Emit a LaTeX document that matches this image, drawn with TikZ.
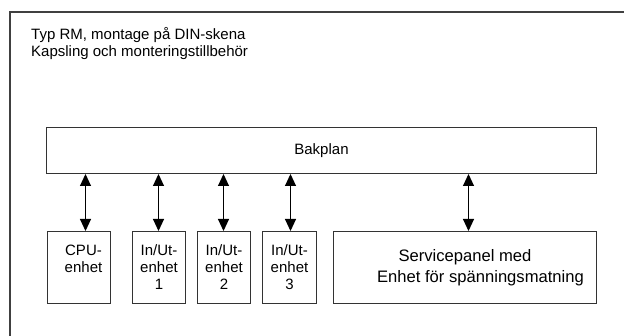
\documentclass[tikz,border=0pt]{standalone}
\usepackage{fontspec}
\setmainfont{Liberation Sans}
\usetikzlibrary{arrows.meta}
\begin{document}
\begin{tikzpicture}[x=1pt,y=-1pt,
  txt/.style={font=\fontsize{15}{17}\selectfont},
  box/.style={draw=black!80,line width=1pt,fill=white,inner sep=0pt,anchor=north west,align=center,txt},
  arr/.style={draw=black,line width=1pt,{Triangle[length=12pt,width=11pt]}-{Triangle[length=12pt,width=11pt]}}]
\useasboundingbox (0,0) rectangle (624,336);
\clip (0,0) rectangle (624,336);
\fill[white] (0,0) rectangle (624,336);
\draw[draw=black!75,line width=1.3pt] (10,12) rectangle (640,350);
\node[txt,anchor=north west,align=left,inner sep=0pt] (title) at (31,27)
  {Typ RM, montage på DIN-skena\\Kapsling och monteringstillbehör};
\node[box,minimum width=550pt,minimum height=46pt] (bak) at (46,127) {Bakplan};
\node[box,minimum width=63pt,minimum height=72pt] (cpu) at (47,231)
  {\hspace*{9pt}CPU-\\\hspace*{9pt}enhet\\\mbox{}};
\node[box,minimum width=53pt,minimum height=72pt] (io1) at (132,231) {In/Ut-\\enhet\\1};
\node[box,minimum width=53pt,minimum height=72pt] (io2) at (197,231) {In/Ut-\\enhet\\2};
\node[box,minimum width=54pt,minimum height=72pt] (io3) at (262,231) {In/Ut-\\enhet\\3};
\node[box,minimum width=263pt,minimum height=72pt,font=\fontsize{16.6}{21}\selectfont] (svc) at (333,231)
  {Servicepanel med\\\hspace*{31pt}Enhet för spänningsmatning};
\draw[arr] ([xshift=6.5pt]cpu.north) -- ([xshift=6.5pt]cpu.north |- bak.south);
\draw[arr] ([xshift=-0.5pt]io1.north) -- ([xshift=-0.5pt]io1.north |- bak.south);
\draw[arr] ([xshift=-0.5pt]io2.north) -- ([xshift=-0.5pt]io2.north |- bak.south);
\draw[arr] ([xshift=1pt]io3.north) -- ([xshift=1pt]io3.north |- bak.south);
\draw[arr] ([xshift=3.5pt]svc.north) -- ([xshift=3.5pt]svc.north |- bak.south);
\end{tikzpicture}
\end{document}
